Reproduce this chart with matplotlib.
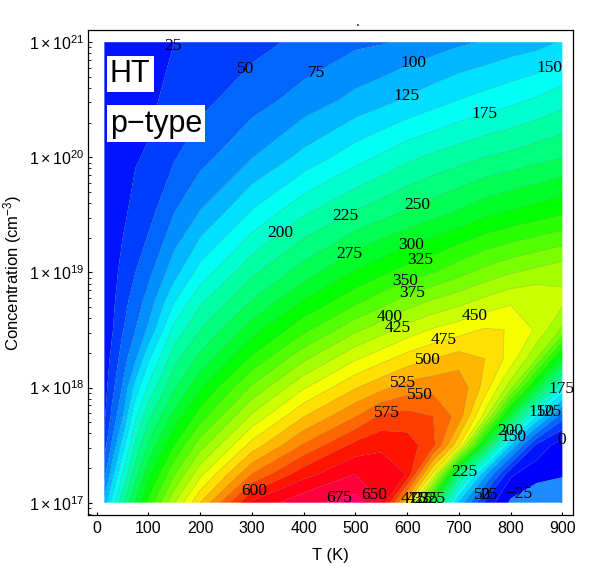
import numpy as np
import matplotlib
matplotlib.use('Agg')
import matplotlib.pyplot as plt
from matplotlib.colors import hsv_to_rgb
from matplotlib.ticker import FixedLocator

plt.rcParams['font.family'] = ['Liberation Sans', 'DejaVu Sans']
plt.rcParams['mathtext.fontset'] = 'custom'
plt.rcParams['mathtext.rm'] = 'Liberation Sans'
plt.rcParams['mathtext.it'] = 'Liberation Sans:italic'
plt.rcParams['mathtext.bf'] = 'Liberation Sans:bold'

# temperature grid (K) and log10 of hole concentration (cm^-3)
temps = [15, 30, 50, 75, 100, 150, 200, 300, 400, 500, 550, 600, 650, 700, 750, 800, 850, 900]
log_conc = [17.0, 17.25, 17.5, 17.75, 18.0, 18.25, 18.5, 18.75, 19.0, 19.5, 20.0, 20.5, 21.0]

# Seebeck coefficient (uV/K), one list per concentration row
s_1700 = [110, 157, 217, 277, 332, 423, 500, 630, 668, 686, 650, 500, 290, 120, 20, -30, -40, -48]
s_1725 = [68, 115, 175, 240, 291, 372, 442, 550, 615, 650, 640, 624, 470, 240, 110, 5, -18, -22]
s_1750 = [40, 80, 135, 205, 253, 325, 388, 485, 553, 608, 620, 612, 584, 480, 283, 125, 20, -15]
s_1775 = [21, 57, 98, 170, 218, 284, 337, 430, 499, 549, 580, 585, 575, 540, 440, 275, 150, 60]
s_1800 = [15, 42, 77, 135, 180, 247, 297, 379, 447, 498, 518, 537, 542, 545, 490, 410, 285, 175]
s_1825 = [12, 31, 62, 97, 145, 216, 257, 330, 395, 447, 467, 486, 500, 512, 500, 465, 400, 285]
s_1850 = [10, 23, 48, 75, 105, 184, 225, 289, 343, 395, 415, 436, 453, 465, 478, 474, 446, 395]
s_1875 = [9, 19, 40, 62, 85, 148, 195, 251, 302, 343, 364, 386, 403, 416, 432, 446, 448, 432]
s_1900 = [8, 16, 32, 50, 68, 115, 160, 220, 262, 303, 319, 336, 349, 367, 384, 398, 408, 418]
s_1950 = [6, 12, 20, 34, 42, 76, 103, 155, 199, 230, 243, 256, 269, 281, 296, 306, 315, 325]
s_2000 = [5, 9, 14, 23, 28, 48, 66, 99, 133, 165, 179, 194, 205, 215, 225, 232, 241, 249]
s_2050 = [4, 7, 10, 14, 18, 36, 43, 64, 85, 107, 117, 128, 139, 150, 159, 168, 178, 190]
s_2100 = [3, 6, 8, 8, 10, 25, 28, 42, 56, 70, 73, 81, 88, 96, 102, 110, 116, 128]

levels = np.arange(-50, 701, 25)

# where the contour labels sit (T, log10 n)
label_pts = [(178, 20.93), (292, 20.75), (428, 20.71), (610, 20.85), (875, 20.77),
             (606, 20.47), (754, 20.31), (356, 19.33), (484, 19.47), (621, 19.57),
             (484, 19.18), (606, 19.26), (623, 19.15), (592, 18.97), (606, 18.86),
             (563, 18.65), (579, 18.55), (729, 18.65), (670, 18.43), (639, 18.25),
             (592, 18.04), (625, 17.94), (563, 17.74), (304, 17.10), (469, 17.05),
             (546, 17.10), (710, 17.27), (800, 17.625), (806, 17.57), (896, 18.0),
             (860, 17.78), (876, 17.78), (898, 17.55), (815, 17.09), (745, 17.07),
             (757, 17.07), (610, 17.04), (622, 17.04), (634, 17.04), (646, 17.04)]

S = np.array([s_1700, s_1725, s_1750, s_1775, s_1800, s_1825, s_1850,
              s_1875, s_1900, s_1950, s_2000, s_2050, s_2100])
T = np.array(temps)
L = np.array(log_conc)

# hue wheel from blue (low) through green/yellow/red to pink (high)
band_colors = []
for lo in levels[:-1]:
    c = lo + 12.5
    if c < -25:
        band_colors.append('#1e8cff')
        continue
    h = min(240.0, 240.0 - 0.384 * c)
    band_colors.append(hsv_to_rgb([(h / 360.0) % 1.0, 1.0, 1.0]))

fig = plt.figure(figsize=(6, 5.67), dpi=100)
ax = fig.add_axes([0.146, 0.0917, 0.8085, 0.855])

ax.contourf(T, L, S, levels=levels, colors=band_colors, antialiased=True)
cs = ax.contour(T, L, S, levels=levels[1:], colors='k', linewidths=0.4, alpha=0.22)
texts = ax.clabel(cs, manual=label_pts, inline=False, fontsize=12.5, colors='k',
                  fmt=lambda v: f'{v:.0f}'.replace('-', '\u2212'))
for t in texts:
    t.set_rotation(0)
    t.set_fontfamily('Liberation Serif')
    t.set_alpha(1)

ax.set_xlim(-17.4, 920)
ax.set_ylim(16.893, 21.104)

ax.set_xticks(np.arange(0, 901, 100))
ax.set_yticks([17, 18, 19, 20, 21])
ax.set_yticklabels([r'$1\times10^{%d}$' % d for d in [17, 18, 19, 20, 21]])
minor = [d + np.log10(k) for d in range(16, 21) for k in range(2, 10)]
ax.yaxis.set_minor_locator(FixedLocator(minor))
ax.tick_params(axis='both', which='major', direction='in', labelsize=11.5,
               top=False, right=False, width=0.8)
ax.tick_params(axis='y', which='major', length=3, pad=2)
ax.tick_params(axis='x', which='major', length=2.2, pad=4)
ax.tick_params(axis='y', which='minor', direction='in', length=1.8, width=0.6, right=False)
for sp in ax.spines.values():
    sp.set_linewidth(0.9)

ax.set_xlabel('T (K)', fontsize=12, labelpad=9)
ax.set_ylabel('Concentration (cm$^{-3}$)', fontsize=12, labelpad=4)

box = dict(boxstyle='square,pad=0.1', fc='white', ec='none')
ax.text(0.046, 0.894, 'HT', transform=ax.transAxes, fontsize=22, ha='left',
        va='baseline', bbox=box)
ax.text(0.046, 0.791, 'p\u2212type', transform=ax.transAxes, fontsize=22, ha='left',
        va='baseline', bbox=box)

fig.text(358 / 600, 1 - 22 / 567, '.', ha='center', va='center', fontsize=10)

fig.savefig('out.png', dpi=100)
